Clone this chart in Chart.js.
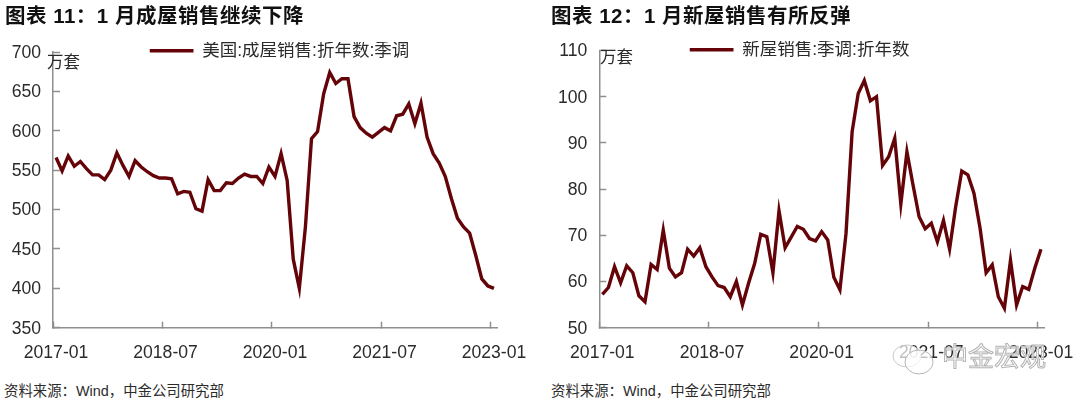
<!DOCTYPE html>
<html lang="zh">
<head>
<meta charset="utf-8">
<title>成屋与新屋销售</title>
<script src="https://cdn.jsdelivr.net/npm/chart.js@4"></script>
<style>
  html, body { margin: 0; padding: 0; background: #fff; }
  body { position: relative; width: 1080px; height: 405px; overflow: hidden; font-family: "Liberation Sans", "Noto Sans CJK SC", sans-serif; color: #2b2b2b; }
  .box { position: absolute; top: 0; height: 372px; }
  .box canvas { display: block; }
  .title { position: absolute; top: 2px; font-size: 20.5px; line-height: 28px; font-weight: 700; letter-spacing: .5px; color: #111; white-space: nowrap; }
  .unit { position: absolute; font-size: 16.5px; line-height: 20px; white-space: nowrap; }
  .source { position: absolute; top: 381px; font-size: 14.4px; line-height: 20px; white-space: nowrap; }
  .mark { position: absolute; left: 942px; top: 341px; font-size: 26px; line-height: 32px; color: rgba(255,255,255,.65); -webkit-text-stroke: 1px #b5b5b5; white-space: nowrap; }
  .bubbles { position: absolute; left: 890px; top: 342px; }
</style>
</head>
<body>
<div class="box" style="left:0;width:540px"><canvas id="existingChart"></canvas></div>
<div class="box" style="left:545px;width:535px"><canvas id="newChart"></canvas></div>

<div class="title" style="left:5px">图表 11：1 月成屋销售继续下降</div>
<div class="title" style="left:551px">图表 12：1 月新屋销售有所反弹</div>
<div class="unit" style="left:47px;top:52px">万套</div>
<div class="unit" style="left:600px;top:47px">万套</div>
<div class="source" style="left:4px">资料来源：Wind，中金公司研究部</div>
<div class="source" style="left:551px">资料来源：Wind，中金公司研究部</div>

<svg class="bubbles" width="50" height="36">
  <ellipse cx="17" cy="14" rx="14" ry="11" fill="rgba(255,255,255,.7)" stroke="#c8c8c8"/>
  <ellipse cx="29" cy="20" rx="14" ry="12" fill="rgba(255,255,255,.7)" stroke="#b5b5b5"/>
</svg>
<div class="mark">中金宏观</div>

<script>
const tickLabels = ['2017-01', '2018-07', '2020-01', '2021-07', '2023-01'];

const months = [];
for (let y = 2017; y <= 2023; y++) {
  for (let m = 1; m <= 12; m++) {
    if (y === 2023 && m > 1) break;
    months.push(`${y}-${String(m).padStart(2, '0')}`);
  }
}

const existingSales = [
  566, 549, 568, 555, 561, 552, 544, 544, 538, 550, 572, 556,
  542, 562, 554, 548, 543, 540, 540, 539, 520, 523, 522, 501,
  498, 538, 524, 524, 534, 533, 540, 545, 542, 542, 533, 554,
  542, 571, 537, 437, 400, 478, 590, 599, 647, 674, 660, 666,
  666, 618, 604, 597, 592, 598, 604, 600, 619, 621, 634, 609,
  635, 592, 571, 559, 542, 514, 489, 478, 470, 442, 412, 403,
  400
];

const newSales = [
  57.2, 58.7, 63.2, 59.7, 63.4, 61.9, 56.9, 55.6, 63.7, 62.6, 71.1, 62.9,
  61.0, 61.9, 67.0, 65.5, 67.3, 63.2, 61.0, 59.1, 58.7, 56.7, 60.0, 54.9,
  59.6, 63.9, 70.2, 69.7, 61.9, 75.3, 67.3, 69.6, 71.9, 71.3, 69.3, 68.8,
  70.8, 69.0, 60.9, 58.2, 70.4, 92.4, 100.7, 103.5, 99.1, 100.0, 85.1, 87.0,
  91.0, 76.8, 88.1, 80.9, 74.0, 71.4, 72.6, 68.6, 73.2, 67.0, 76.2, 83.9,
  83.1, 79.1, 71.6, 61.9, 63.6, 56.7, 54.2, 64.6, 54.9, 58.9, 58.3, 62.9,
  67.0
];

const lineColor = '#640408';
const axisColor = '#8f8f8f';
const textColor = '#2b2b2b';
const fontFamily = '"Liberation Sans", "Noto Sans CJK SC", sans-serif';

// legend sits above the plot in the reference, so it is moved after layout
const moveLegend = {
  id: 'moveLegend',
  afterLayout(chart, args, opts) {
    const legend = chart.legend;
    const w = legend.right - legend.left;
    legend.left = opts.x;
    legend.right = opts.x + w;
    legend.top = opts.y;
    legend.bottom = opts.y + legend.height;
  }
};

function makeChart(id, cfg) {
  return new Chart(document.getElementById(id), {
    type: 'line',
    plugins: [moveLegend],
    data: {
      labels: months,
      datasets: [{
        label: cfg.name,
        data: cfg.values,
        borderColor: lineColor,
        backgroundColor: lineColor,
        borderWidth: 3.4,
        pointRadius: 0,
        tension: 0,
        borderJoinStyle: 'miter',
        clip: false
      }]
    },
    options: {
      responsive: true,
      maintainAspectRatio: false,
      animation: false,
      layout: { padding: { top: cfg.top, right: cfg.right, left: 0, bottom: 0 } },
      plugins: {
        tooltip: { enabled: false },
        moveLegend: { x: cfg.legendX, y: cfg.legendY },
        legend: {
          position: 'chartArea',
          align: 'start',
          labels: {
            boxWidth: 44,
            boxHeight: 0,
            padding: 0,
            color: textColor,
            font: { family: fontFamily, size: 17.5 }
          }
        }
      },
      scales: {
        x: {
          offset: true,
          afterFit: scale => {
            scale.height = 372 - 327.7;
            scale.paddingLeft = 0;
            scale.paddingRight = 0;
          },
          border: { color: axisColor, width: 1.5 },
          grid: {
            offset: true,
            drawOnChartArea: false,
            tickLength: -6,
            tickWidth: 1.5,
            tickColor: ctx => (ctx.index % 18 === 0 ? axisColor : 'transparent')
          },
          ticks: {
            autoSkip: false,
            maxRotation: 0,
            padding: 20.5,
            color: textColor,
            font: { family: fontFamily, size: 17.6 },
            callback(value) {
              const label = this.getLabelForValue(value);
              return tickLabels.includes(label) ? label : '';
            }
          }
        },
        y: {
          min: cfg.min,
          max: cfg.max,
          afterFit: scale => { scale.width = cfg.axisX; },
          border: { color: axisColor, width: 1.5 },
          grid: {
            drawOnChartArea: false,
            tickLength: -7,
            tickWidth: 1.5,
            tickColor: axisColor
          },
          ticks: {
            stepSize: cfg.step,
            padding: 19,
            labelOffset: 1,
            color: textColor,
            font: { family: fontFamily, size: 17.6 }
          }
        }
      }
    }
  });
}

window.addEventListener('DOMContentLoaded', () => {
  makeChart('existingChart', {
    name: '美国:成屋销售:折年数:季调',
    values: existingSales,
    min: 350, max: 700, step: 50,
    axisX: 53, top: 52, right: 43,
    legendX: 149.5, legendY: 42
  });
  makeChart('newChart', {
    name: '新屋销售:季调:折年数',
    values: newSales,
    min: 50, max: 110, step: 10,
    axisX: 54.3, top: 50.5, right: 36,
    legendX: 144.5, legendY: 41
  });
});
</script>
</body>
</html>
